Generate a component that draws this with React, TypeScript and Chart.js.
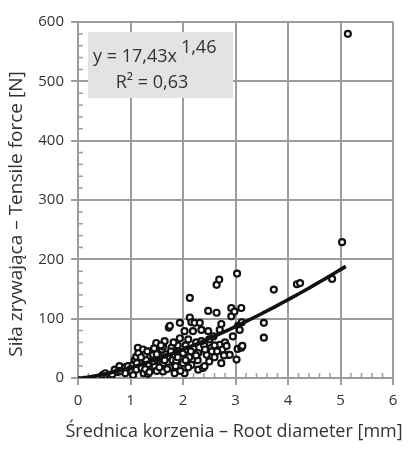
import React, { useEffect, useRef } from "react";
import { Chart, registerables } from "chart.js";
Chart.register(...registerables);

// Root diameter [mm]
const diameterMm = [
  0.47, 0.52, 0.55, 0.6, 0.63, 0.7, 0.75, 0.79, 0.85, 0.9, 0.95, 1.0, 1.02, 1.05, 1.08, 1.11, 1.11, 1.14, 1.15, 1.18,
  1.21, 1.24, 1.25, 1.27, 1.3, 1.33, 1.35, 1.38, 1.4, 1.43, 1.46, 1.48, 1.49, 1.5, 1.52, 1.55, 1.57, 1.6, 1.62, 1.62,
  1.62, 1.65, 1.68, 1.71, 1.73, 1.75, 1.75, 1.78, 1.8, 1.84, 1.84, 1.87, 1.9, 1.92, 1.94, 1.94, 1.97, 2.0, 2.0, 2.03,
  2.03, 2.05, 2.08, 2.1, 2.12, 2.13, 2.13, 2.16, 2.16, 2.19, 2.2, 2.22, 2.25, 2.28, 2.29, 2.29, 2.32, 2.35, 2.38, 2.4,
  2.41, 2.45, 2.48, 2.48, 2.5, 2.54, 2.55, 2.58, 2.6, 2.64, 2.64, 2.69, 2.7, 2.7, 2.73, 2.73, 2.75, 2.8, 2.83, 2.86,
  2.89, 2.92, 2.92, 2.95, 2.98, 3.02, 3.03, 3.04, 3.05, 3.08, 3.11, 3.11, 3.13, 3.12, 3.54, 3.54, 3.73, 4.17, 4.23, 4.84,
  5.03, 5.14,
  1.05, 1.12, 1.2, 1.28, 1.32, 1.36, 1.42, 1.45, 1.5, 1.55, 1.58, 1.65, 1.7, 1.77, 1.82, 1.86, 1.9, 1.95, 2.05, 2.1,
  2.15, 2.25, 2.35, 2.42, 2.5, 2.6, 2.65, 2.78, 0.9, 0.65, 0.8,
];
// Tensile force [N]
const forceN = [
  5, 8, 3, 3, 1, 14, 10, 20, 12, 18, 20, 15, 10, 22, 30, 36, 14, 51, 42, 25,
  17, 48, 8, 39, 30, 7, 22, 45, 15, 39, 20, 30, 59, 12, 45, 35, 25, 48, 53, 11,
  25, 62, 40, 36, 85, 88, 18, 51, 30, 39, 8, 28, 55, 45, 93, 67, 35, 42, 25, 79,
  8, 55, 48, 65, 35, 102, 135, 22, 94, 79, 50, 93, 60, 30, 42, 14, 93, 81, 17, 55,
  20, 39, 79, 113, 65, 51, 45, 70, 35, 110, 157, 166, 81, 56, 91, 25, 48, 60, 54, 39,
  39, 104, 118, 70, 112, 31, 176, 49, 88, 81, 118, 51, 54, 94, 93, 68, 149, 158, 160, 167,
  229, 580,
  5, 25, 35, 15, 45, 10, 28, 50, 40, 18, 55, 30, 15, 45, 60, 20, 35, 12, 30, 18,
  45, 38, 62, 48, 28, 55, 45, 38, 8, 6, 12,
];

// Power trend line y = a * x^b as printed on the chart
const fitA = 17.43;
const fitB = 1.46;
const fitXStart = 0;
const fitXEnd = 5.1;
const fitSteps = 60;

const xTickValues = [0, 1, 2, 3, 4, 5, 6];
const yTickValues = [0, 100, 200, 300, 400, 500, 600];

const equationText = "y = 17,43x";
const exponentText = "1,46";
const r2Text = "R\u00B2 = 0,63";
const xTitle = "\u015Arednica korzenia \u2013 Root diameter [mm]";
const yTitle = "Si\u0142a zrywaj\u0105ca \u2013 Tensile force [N]";

const GRID = "#9c9c9c";
const TEXT = "#333333";
const FONT = "'Open Sans', sans-serif";

export default function App() {
  const ref = useRef<HTMLCanvasElement | null>(null);

  useEffect(() => {
    if (!ref.current) return;
    const points = diameterMm.map((x, i) => ({ x, y: forceN[i] }));
    const fit: { x: number; y: number }[] = [];
    for (let i = 0; i <= fitSteps; i++) {
      const x = fitXStart + ((fitXEnd - fitXStart) * i) / fitSteps;
      fit.push({ x, y: fitA * Math.pow(x, fitB) });
    }

    const overlay = {
      id: "overlay",
      beforeDatasetsDraw(chart: any) {
        const { ctx, chartArea } = chart;
        const xs = chart.scales.x;
        const ys = chart.scales.y;
        ctx.save();
        ctx.strokeStyle = GRID;
        ctx.lineWidth = 1.5;
        for (let v = 20; v < 600; v += 20) {
          if (v % 100 === 0) continue;
          const py = ys.getPixelForValue(v);
          ctx.beginPath();
          ctx.moveTo(chartArea.left, py);
          ctx.lineTo(chartArea.left + 5, py);
          ctx.stroke();
        }
        for (let i = 1; i < 30; i++) {
          if (i % 5 === 0) continue;
          const px = xs.getPixelForValue(i * 0.2);
          ctx.beginPath();
          ctx.moveTo(px, chartArea.bottom);
          ctx.lineTo(px, chartArea.bottom - 5);
          ctx.stroke();
        }
        ctx.restore();
      },
      afterDatasetsDraw(chart: any) {
        const { ctx, chartArea } = chart;
        const bx = chartArea.left + 10;
        const by = chartArea.top + 10;
        ctx.save();
        ctx.fillStyle = "#e3e3e3";
        ctx.fillRect(bx, by, 145, 66);
        ctx.fillStyle = TEXT;
        ctx.font = `18px ${FONT}`;
        ctx.textBaseline = "alphabetic";
        ctx.textAlign = "left";
        ctx.fillText(equationText, bx + 5, by + 30);
        const w = ctx.measureText(equationText).width;
        ctx.fillText(exponentText, bx + 5 + w + 4, by + 21);
        ctx.textAlign = "center";
        ctx.fillText(r2Text, bx + 64, by + 56);
        ctx.restore();
      },
      afterDraw(chart: any) {
        const { ctx } = chart;
        ctx.save();
        ctx.fillStyle = TEXT;
        ctx.font = `18px ${FONT}`;
        ctx.textAlign = "center";
        ctx.textBaseline = "middle";
        ctx.fillText(xTitle, 234, 432);
        ctx.font = `19px ${FONT}`;
        ctx.translate(17, 214);
        ctx.rotate(-Math.PI / 2);
        ctx.fillText(yTitle, 0, 0);
        ctx.restore();
      },
    };

    const chart = new Chart(ref.current, {
      type: "scatter",
      data: {
        datasets: [
          {
            data: fit,
            showLine: true,
            borderColor: "#111111",
            borderWidth: 3.6,
            pointRadius: 0,
            fill: false,
          } as any,
          {
            data: points,
            pointRadius: 3,
            pointBorderWidth: 2.2,
            pointBorderColor: "#111111",
            pointBackgroundColor: "#ffffff",
            showLine: false,
          } as any,
        ],
      },
      options: {
        responsive: false,
        animation: false,
        layout: { padding: { top: 22, right: 16, left: 0, bottom: 0 } },
        plugins: { legend: { display: false }, tooltip: { enabled: false } },
        scales: {
          x: {
            type: "linear",
            min: 0,
            max: 6,
            afterFit: (s: any) => {
              s.height = 73;
            },
            afterBuildTicks: (s: any) => {
              s.ticks = xTickValues.map((v) => ({ value: v }));
            },
            grid: { color: GRID, lineWidth: 2, tickLength: 7, tickColor: GRID, tickWidth: 2 },
            border: { color: GRID, width: 2 },
            ticks: { color: TEXT, font: { family: FONT, size: 15 }, padding: 7 },
            title: { display: false },
          },
          y: {
            type: "linear",
            min: 0,
            max: 600,
            afterFit: (s: any) => {
              s.width = 78;
            },
            afterBuildTicks: (s: any) => {
              s.ticks = yTickValues.map((v) => ({ value: v }));
            },
            grid: { color: GRID, lineWidth: 2, tickLength: 7, tickColor: GRID, tickWidth: 2 },
            border: { color: GRID, width: 2 },
            ticks: { color: TEXT, font: { family: FONT, size: 15 }, padding: 7 },
            title: { display: false },
          },
        },
      },
      plugins: [overlay],
    });
    return () => chart.destroy();
  }, []);

  return (
    <div style={{ position: "absolute", left: 0, top: 0, width: 409, height: 451, background: "#ffffff" }}>
      <canvas ref={ref} width={409} height={451} style={{ display: "block" }} />
    </div>
  );
}
